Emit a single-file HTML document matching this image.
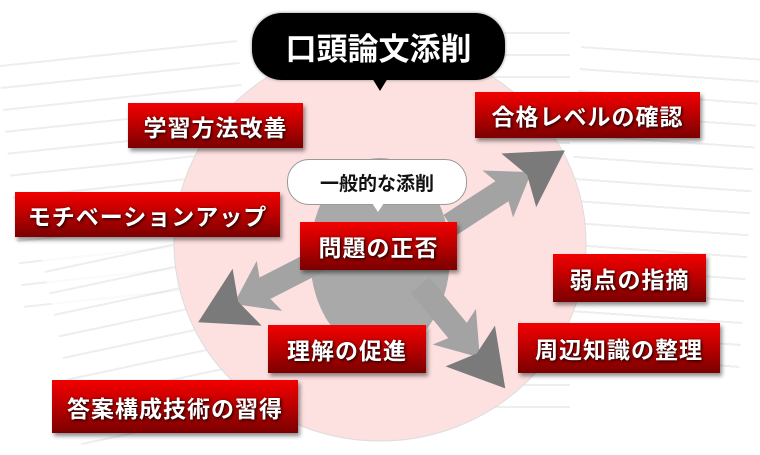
<!DOCTYPE html>
<html><head><meta charset="utf-8"><style>
body{margin:0;width:760px;height:452px;overflow:hidden;background:#fff;position:relative;font-family:"Liberation Sans","Noto Sans CJK JP",sans-serif}
.doc{position:absolute;background:repeating-linear-gradient(#fff 0 12px,#e6e6e6 12px 14px,#fff 14px 22px);opacity:.7}
.lb{position:absolute;background:linear-gradient(#f30000,#c00000 45%,#7a0000);color:#fff;font-weight:bold;font-size:23px;display:flex;align-items:center;justify-content:center;text-shadow:1px 1px 3px #000;box-shadow:2px 3px 4px rgba(0,0,0,.45);letter-spacing:1px}
.bub{position:absolute;display:flex;align-items:center;justify-content:center;font-weight:bold}
</style></head><body>
<div class="doc" style="left:10px;top:40px;width:240px;height:260px;transform:rotate(-6deg)"></div>
<div class="doc" style="left:60px;top:230px;width:260px;height:200px;transform:rotate(-12deg)"></div>
<div class="doc" style="left:470px;top:20px;width:100px;height:400px"></div>
<div class="doc" style="left:570px;top:40px;width:180px;height:340px;transform:rotate(4deg)"></div>
<svg style="position:absolute;left:0;top:0" width="760" height="452">
<defs>
<g id="ar137">
<polygon fill="#a3a3a3" points="0,-12 62,-12 57,-28 97,0 57,28 62,12 0,12"/>
<polygon fill="#7a7a7a" points="82,-32 137,0 82,32 92,0"/>
</g>
<g id="ar148">
<polygon fill="#a3a3a3" points="0,-12 73,-12 68,-28 108,0 68,28 73,12 0,12"/>
<polygon fill="#7a7a7a" points="93,-32 148,0 93,32 103,0"/>
</g>
<g id="ar134">
<polygon fill="#a3a3a3" points="0,-12 59,-12 54,-28 94,0 54,28 59,12 0,12"/>
<polygon fill="#7a7a7a" points="79,-32 134,0 79,32 89,0"/>
</g>
</defs>
<ellipse cx="380" cy="243" rx="206" ry="198" fill="#fde0e0" stroke="#ddd" stroke-width="1"/>
<ellipse cx="380" cy="256" rx="70" ry="98" fill="#a9a9a9"/>
<use href="#ar137" transform="translate(450,225) rotate(-33)"/>
<use href="#ar148" transform="translate(330,255) rotate(153)"/>
<use href="#ar134" transform="translate(420,285) rotate(50.5)"/>
</svg>
<div class="bub" style="left:252px;top:13px;width:253px;height:67px;background:#000;color:#fff;border-radius:30px;font-size:31px;box-shadow:0 0 3px #888">口頭論文添削</div>
<div style="position:absolute;left:372px;top:78px;border:8px solid transparent;border-top:13px solid #000"></div>
<div class="bub" style="left:287px;top:159px;width:178px;height:44px;background:#fff;border:1px solid #999;border-radius:22px;font-size:19px;color:#111">一般的な添削</div>
<div style="position:absolute;left:372px;top:203px;border:6px solid transparent;border-top:9px solid #fff"></div>
<div class="lb" style="left:128px;top:103px;width:175px;height:45px">学習方法改善</div>
<div class="lb" style="left:15px;top:192px;width:265px;height:45px">モチベーションアップ</div>
<div class="lb" style="left:475px;top:92px;width:225px;height:46px">合格レベルの確認</div>
<div class="lb" style="left:300px;top:222px;width:157px;height:48px">問題の正否</div>
<div class="lb" style="left:553px;top:254px;width:153px;height:48px">弱点の指摘</div>
<div class="lb" style="left:268px;top:325px;width:158px;height:48px">理解の促進</div>
<div class="lb" style="left:518px;top:323px;width:202px;height:50px">周辺知識の整理</div>
<div class="lb" style="left:52px;top:380px;width:246px;height:53px">答案構成技術の習得</div>
</body></html>
